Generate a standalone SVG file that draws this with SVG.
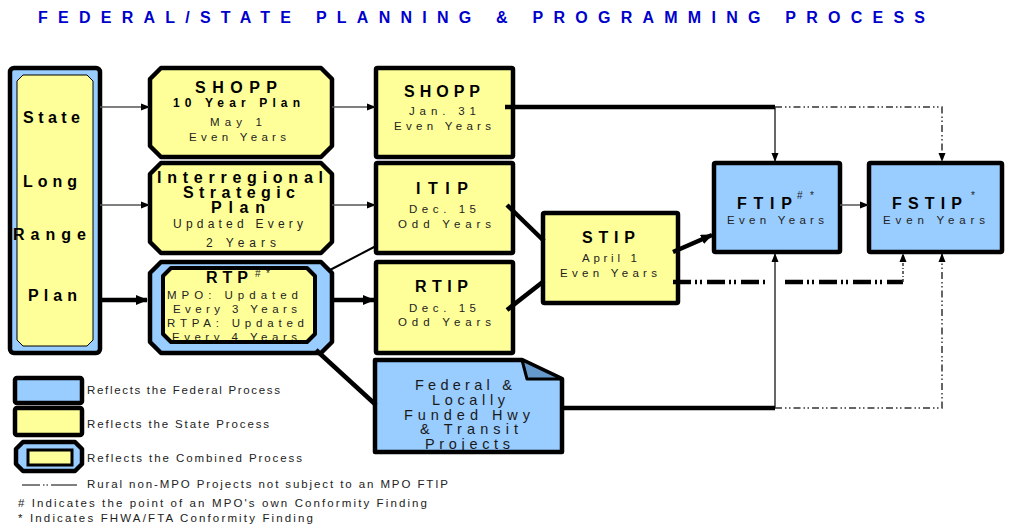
<svg xmlns="http://www.w3.org/2000/svg" width="1011" height="527" viewBox="0 0 1011 527">
<style>
text { font-family: "Liberation Sans", Arial, Helvetica, sans-serif; }
.title { font-size: 16px; font-weight: bold; fill: #0000cc; }
.h { font-weight: bold; font-size: 16px; fill: #000; }
.h2 { font-weight: bold; font-size: 12px; fill: #000; }
.s { font-size: 11.5px; fill: #222; }
.m { font-size: 12px; fill: #222; }
.m2 { font-size: 11.5px; fill: #222; }
.f { font-size: 14.5px; fill: #1a1a1a; }
.lg { font-size: 11.5px; fill: #222; }
.sup { font-size: 10px; fill: #222; }
.yel { fill: #ffff99; stroke: #000; stroke-width: 4.5; stroke-linejoin: round; }
.blu { fill: #99ccff; stroke: #000; stroke-width: 4.5; stroke-linejoin: round; }
.thin { fill: none; stroke: #555; stroke-width: 1.5; }
.thinb { fill: none; stroke: #000; stroke-width: 1.2; }
.thick { fill: none; stroke: #000; stroke-width: 4.5; }
.dd { fill: none; stroke: #333; stroke-width: 1.5; stroke-dasharray: 7 3 1.5 2.5 1.5 3; }
.tdd { fill: none; stroke: #000; stroke-width: 4.5; stroke-dasharray: 18 4 2 3 2 5; }
.dot { fill: none; stroke: #333; stroke-width: 1.5; stroke-dasharray: 3 2 1 2; }
</style>
<defs>
<marker id="ah" markerUnits="userSpaceOnUse" markerWidth="9" markerHeight="8" refX="8" refY="4" orient="auto"><path d="M0,0.5 L9,4 L0,7.5 Z" fill="#000"/></marker>
<marker id="ahT" markerUnits="userSpaceOnUse" markerWidth="12" markerHeight="10" refX="11" refY="5" orient="auto"><path d="M0,0 L12,5 L0,10 Z" fill="#000"/></marker>
<clipPath id="rtpclip"><path d="M171,268 H307 L315,276 V334 L307,342 H171 L163,334 V276 Z"/></clipPath>
</defs>

<text class="title" x="38" y="23" textLength="887" lengthAdjust="spacing">FEDERAL/STATE PLANNING &amp; PROGRAMMING PROCESS</text>

<g id="state-long-range-plan">
<rect x="10" y="68" width="90" height="285" rx="4" class="blu"/>
<path d="M23,75 H87 L93,81 V340 L87,346 H23 L17,340 V81 Z" fill="#ffff99" stroke="#000" stroke-width="1"/>
<text class="h" x="23" y="123" textLength="57" lengthAdjust="spacing">State</text>
<text class="h" x="23" y="187" textLength="54" lengthAdjust="spacing">Long</text>
<text class="h" x="13" y="240" textLength="73" lengthAdjust="spacing">Range</text>
<text class="h" x="28" y="301" textLength="49" lengthAdjust="spacing">Plan</text>
</g>

<g id="shopp-10-year-plan">
<path class="yel" d="M161,68 H321 L332,79 V146 L321,157 H161 L150,146 V79 Z"/>
<text class="h" x="195" y="93" textLength="82" lengthAdjust="spacing">SHOPP</text>
<text class="h2" x="173" y="107" textLength="127" lengthAdjust="spacing">10 Year Plan</text>
<text class="s" x="210" y="126" textLength="52" lengthAdjust="spacing">May 1</text>
<text class="s" x="189" y="141" textLength="97" lengthAdjust="spacing">Even Years</text>
</g>

<g id="interregional-strategic-plan">
<path class="yel" d="M161,163 H321 L332,174 V242 L321,253 H161 L150,242 V174 Z"/>
<text class="h" x="157" y="183" textLength="166" lengthAdjust="spacing">Interregional</text>
<text class="h" x="183" y="198" textLength="112" lengthAdjust="spacing">Strategic</text>
<text class="h" x="211" y="213" textLength="54" lengthAdjust="spacing">Plan</text>
<text class="m" x="173" y="228" textLength="130" lengthAdjust="spacing">Updated Every</text>
<text class="m" x="206" y="247" textLength="70" lengthAdjust="spacing">2 Years</text>
</g>

<g id="rtp">
<path class="blu" d="M161,262 H321 L332,273 V342 L321,353 H161 L150,342 V273 Z"/>
<path d="M171,268 H307 L315,276 V334 L307,342 H171 L163,334 V276 Z" fill="#ffff99"/>
<g clip-path="url(#rtpclip)">
<text class="h" x="206" y="283" textLength="42" lengthAdjust="spacing">RTP</text>
<text class="sup" x="255" y="277" textLength="15" lengthAdjust="spacing">#*</text>
<text class="m2" x="167" y="299" textLength="131" lengthAdjust="spacing">MPO: Updated</text>
<text class="m2" x="173" y="312.5" textLength="124" lengthAdjust="spacing">Every 3 Years</text>
<text class="m2" x="167" y="326.5" textLength="137" lengthAdjust="spacing">RTPA: Updated</text>
<text class="m2" x="172" y="341" textLength="125" lengthAdjust="spacing">Every 4 Years</text>
</g>
<path d="M171,268 H307 L315,276 V334 L307,342 H171 L163,334 V276 Z" fill="none" stroke="#000" stroke-width="4" stroke-linejoin="round"/>
</g>

<g id="shopp">
<rect class="yel" x="376" y="68" width="137" height="89" rx="1.5"/>
<text class="h" x="404" y="97" textLength="76" lengthAdjust="spacing">SHOPP</text>
<text class="s" x="409" y="115" textLength="67" lengthAdjust="spacing">Jan. 31</text>
<text class="s" x="394" y="130" textLength="97" lengthAdjust="spacing">Even Years</text>
</g>

<g id="itip">
<rect class="yel" x="376" y="163" width="137" height="90" rx="1.5"/>
<text class="h" x="416" y="194" textLength="52" lengthAdjust="spacing">ITIP</text>
<text class="s" x="409" y="213" textLength="67" lengthAdjust="spacing">Dec. 15</text>
<text class="s" x="398" y="228" textLength="93" lengthAdjust="spacing">Odd Years</text>
</g>

<g id="rtip">
<rect class="yel" x="376" y="262" width="137" height="91" rx="1.5"/>
<text class="h" x="415" y="292" textLength="53" lengthAdjust="spacing">RTIP</text>
<text class="s" x="409" y="312" textLength="67" lengthAdjust="spacing">Dec. 15</text>
<text class="s" x="398" y="326" textLength="93" lengthAdjust="spacing">Odd Years</text>
</g>

<g id="stip">
<rect class="yel" x="543" y="213" width="135" height="90" rx="1.5"/>
<text class="h" x="582" y="243" textLength="53" lengthAdjust="spacing">STIP</text>
<text class="s" x="582" y="262" textLength="55" lengthAdjust="spacing">April 1</text>
<text class="s" x="560" y="277" textLength="97" lengthAdjust="spacing">Even Years</text>
</g>

<g id="ftip">
<rect class="blu" x="714" y="163" width="126" height="89" rx="1.5"/>
<text class="h" x="737" y="209" textLength="55" lengthAdjust="spacing">FTIP</text>
<text class="sup" x="797" y="199" textLength="17" lengthAdjust="spacing">#*</text>
<text class="s" x="727" y="224" textLength="97" lengthAdjust="spacing">Even Years</text>
</g>

<g id="fstip">
<rect class="blu" x="869" y="163" width="133" height="89" rx="1.5"/>
<text class="h" x="892" y="209" textLength="70" lengthAdjust="spacing">FSTIP</text>
<text class="sup" x="971" y="199">*</text>
<text class="s" x="883" y="224" textLength="102" lengthAdjust="spacing">Even Years</text>
</g>

<g id="federal-locally-funded-projects">
<path d="M375,360 H522 L562,379 V452 H375 Z" fill="#99ccff"/>
<text class="f" x="415" y="390" textLength="97" lengthAdjust="spacing">Federal &amp;</text>
<text class="f" x="432" y="405" textLength="73" lengthAdjust="spacing">Locally</text>
<text class="f" x="404" y="420" textLength="126" lengthAdjust="spacing">Funded Hwy</text>
<text class="f" x="420" y="434" textLength="98" lengthAdjust="spacing">&amp; Transit</text>
<text class="f" x="425" y="449" textLength="85" lengthAdjust="spacing">Projects</text>
<path d="M375,360 H522 L562,379 V452 H375 Z" fill="none" stroke="#000" stroke-width="4.5" stroke-linejoin="round"/>
<path d="M522,360 L527,379 H562 Z" fill="#6699cc" stroke="#000" stroke-width="3" stroke-linejoin="round"/>
</g>

<g id="connectors">
<path class="thin" d="M100,107 H149" marker-end="url(#ah)"/>
<path class="thin" d="M100,205 H149" marker-end="url(#ah)"/>
<path class="thick" d="M100,300 H147" marker-end="url(#ahT)"/>
<path class="thin" d="M332,107 H375" marker-end="url(#ah)"/>
<path class="thin" d="M332,205 H375" marker-end="url(#ah)"/>
<path class="thick" d="M332,300 H374" marker-end="url(#ahT)"/>
<path d="M330,270 L376,246" fill="none" stroke="#000" stroke-width="2"/>
<path class="thick" d="M505,107 H775"/>
<path class="thinb" d="M775,107 V161" marker-end="url(#ah)"/>
<path class="dd" d="M775,107 H942 V161" marker-end="url(#ah)"/>
<path class="thick" d="M507,205 L544,241"/>
<path class="thick" d="M507,310 L544,281"/>
<path class="thick" d="M673,252 L712,235" marker-end="url(#ahT)"/>
<path class="tdd" d="M673,282 H765 M785,282 H903"/>
<path class="dot" d="M903,282 V254" marker-end="url(#ah)"/>
<path class="thin" d="M840,205 H868" marker-end="url(#ah)"/>
<path class="thick" d="M316,350 L376,405"/>
<path class="thick" d="M562,408 H775"/>
<path class="thinb" d="M775,408 V254" marker-end="url(#ah)"/>
<path class="dd" d="M775,408 H942 V254" marker-end="url(#ah)"/>
</g>

<g id="legend">
<rect class="blu" x="15" y="378" width="67" height="25" rx="2"/>
<text class="lg" x="87" y="394" textLength="193" lengthAdjust="spacing">Reflects the Federal Process</text>
<rect class="yel" x="15" y="408" width="67" height="27" rx="2"/>
<text class="lg" x="87" y="428" textLength="182" lengthAdjust="spacing">Reflects the State Process</text>
<path class="blu" d="M23,442 H75 L82,449 V464 L75,471 H23 L16,464 V449 Z"/>
<rect x="28" y="450" width="44" height="15" fill="#ffff99" stroke="#000" stroke-width="3"/>
<text class="lg" x="87" y="462" textLength="215" lengthAdjust="spacing">Reflects the Combined Process</text>
<path d="M22,485 H77" fill="none" stroke="#000" stroke-width="1.2" stroke-dasharray="18 3 1.5 2 1.5 3 30"/>
<text class="lg" x="87" y="488" textLength="361" lengthAdjust="spacing">Rural non-MPO Projects not subject to an MPO FTIP</text>
<text class="lg" x="18" y="507" textLength="409" lengthAdjust="spacing"># Indicates the point of an MPO's own Conformity Finding</text>
<text class="lg" x="18" y="522" textLength="295" lengthAdjust="spacing">* Indicates FHWA/FTA Conformity Finding</text>
</g>
</svg>
